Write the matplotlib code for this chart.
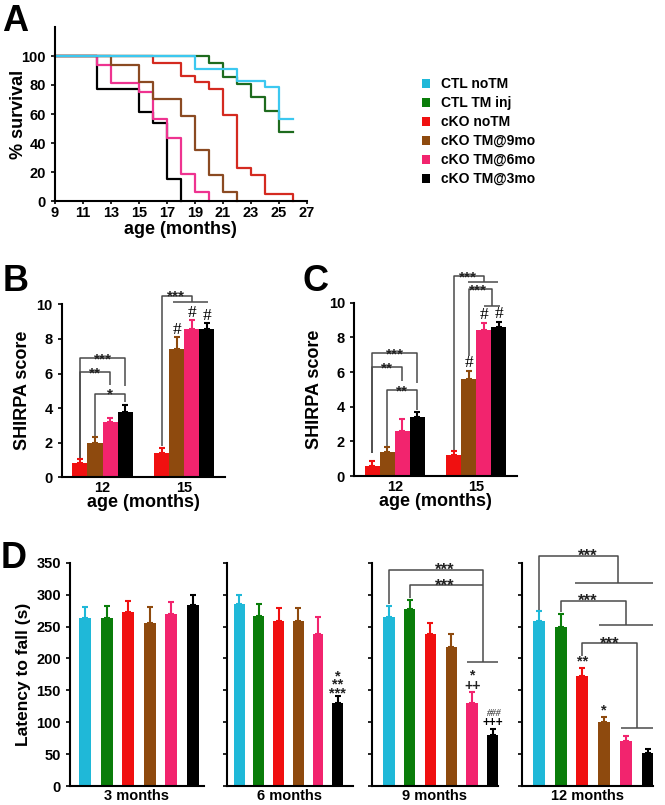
import matplotlib
matplotlib.use("Agg")
import matplotlib.pyplot as plt
from matplotlib.patches import Patch

plt.rcParams['font.family'] = ['Liberation Sans', 'DejaVu Sans']
plt.rcParams['font.weight'] = 'bold'
plt.rcParams['axes.labelweight'] = 'bold'

W, H = 665, 805

groups = ["CTL noTM", "CTL TM inj", "cKO noTM", "cKO TM@9mo", "cKO TM@6mo", "cKO TM@3mo"]
line_colors = ["#3cc8f0", "#1e6b1e", "#d42a20", "#8b4a22", "#ee3390", "#000000"]
bar_colors = ["#1fb8d8", "#0a7d0a", "#f01010", "#8e4a0e", "#f2246e", "#000000"]

# survival curves (month of each step, % surviving from that month on)
surv_t = [
    [9, 19, 22, 24, 25, 26],
    [9, 20, 21, 22, 23, 24, 25, 26],
    [9, 16, 18, 19, 20, 21, 22, 23, 24, 26],
    [9, 13, 15, 16, 18, 19, 20, 21, 22],
    [9, 12, 13, 15, 16, 17, 18, 19, 20],
    [9, 12, 15, 16, 17, 18],
]
surv_pct = [
    [100, 91.3, 82.6, 78.3, 56.5, 56.5],
    [100, 95.2, 85.7, 81.0, 71.4, 61.9, 47.6, 47.6],
    [100, 95.5, 86.4, 81.8, 77.3, 59.1, 22.7, 18.2, 4.5, 0],
    [100, 94.1, 82.4, 70.6, 58.8, 35.3, 17.6, 5.9, 0],
    [100, 93.75, 81.25, 75.0, 56.25, 43.75, 18.75, 6.25, 0],
    [100, 76.9, 61.5, 53.8, 15.4, 0],
]

# SHIRPA scores (cKO noTM, TM@9mo, TM@6mo, TM@3mo)
shirpa_ages = ["12", "15"]
shirpa_b = [[0.8, 2.0, 3.2, 3.8], [1.4, 7.4, 8.6, 8.6]]
shirpa_b_err = [[0.25, 0.35, 0.25, 0.4], [0.3, 0.7, 0.5, 0.3]]
shirpa_c = [[0.6, 1.4, 2.6, 3.4], [1.2, 5.6, 8.45, 8.6]]
shirpa_c_err = [[0.28, 0.28, 0.7, 0.28], [0.23, 0.45, 0.37, 0.28]]

# rotarod latency to fall (s)
rotarod_ages = ["3 months", "6 months", "9 months", "12 months"]
rotarod = [
    [264, 264, 272, 256, 270, 284],
    [286, 266, 259, 259, 238, 130],
    [265, 277, 238, 218, 130, 80],
    [259, 249, 173, 101, 71, 52],
]
rotarod_err = [
    [17, 18, 18, 24, 19, 15],
    [13, 19, 20, 20, 27, 11],
    [17, 15, 18, 21, 17, 9],
    [15, 20, 12, 7, 7, 6],
]

BR = "#4a4a4a"

fig = plt.figure(figsize=(W / 100, H / 100), dpi=100)


def px_axes(l, t, r, b):
    return fig.add_axes([l / W, 1 - b / H, (r - l) / W, (b - t) / H])


def style(ax, lw=1.5):
    for s in ["top", "right"]:
        ax.spines[s].set_visible(False)
    for s in ["left", "bottom"]:
        ax.spines[s].set_linewidth(lw)
    ax.tick_params(direction="out", length=3, width=1.2, labelsize=10.5)


def seg(ax, xs, ys):
    ax.plot(xs, ys, color=BR, lw=1.1, clip_on=False, solid_capstyle="butt")


def stars(ax, x, y, s, size=11):
    ax.annotate(s, (x, y), xytext=(0, -3.8), textcoords="offset points",
                ha="center", va="baseline", fontsize=size, fontweight="bold",
                color="#222222", annotation_clip=False)


def bracket(ax, xl, xr, top, lbot, rbot, s):
    seg(ax, [xl, xl, xr, xr], [lbot, top, top, rbot])
    stars(ax, (xl + xr) / 2, top, s)


# ---- A: survival
axA = px_axes(55, 27, 306.5, 201)
style(axA)
for i in range(5, -1, -1):
    axA.step(surv_t[i], surv_pct[i], where="post", color=line_colors[i], lw=1.6, clip_on=False)
axA.set_xlim(9, 27)
axA.set_ylim(0, 120)
axA.set_xticks(range(9, 28, 2))
axA.set_yticks(range(0, 101, 20))
axA.tick_params(axis="x", length=2, pad=1.5)
axA.set_xlabel("age (months)", fontsize=13, labelpad=1)
axA.set_ylabel("% survival", fontsize=13)
axA.yaxis.set_label_coords(-0.11, 0.5)
handles = [Patch(facecolor=c, edgecolor="none") for c in bar_colors]
fig.legend(handles, groups, loc="upper left", bbox_to_anchor=(422 / W, 1 - 77 / H),
           frameon=False, fontsize=10, handlelength=0.6, handleheight=0.6,
           handletextpad=0.8, labelspacing=0.36, borderpad=0, borderaxespad=0)

# ---- B and C: SHIRPA
w = 0.185
offs = [-1.5 * w, -0.5 * w, 0.5 * w, 1.5 * w]
cols4 = bar_colors[2:]


def shirpa(ax, vals, errs):
    style(ax)
    for g in range(2):
        for k in range(4):
            x = g + offs[k]
            ax.bar(x, vals[g][k], width=w, color=cols4[k], zorder=2)
            ax.errorbar(x, vals[g][k], yerr=[[0], [errs[g][k]]], color=cols4[k],
                        elinewidth=1.5, capsize=2.5, capthick=1.5, zorder=1)
    ax.set_xlim(-0.5, 1.5)
    ax.set_ylim(0, 10)
    ax.set_yticks(range(0, 11, 2))
    ax.set_xticks([0, 1])
    ax.set_xticklabels(shirpa_ages)
    ax.tick_params(axis="x", length=0, pad=3)
    ax.set_xlabel("age (months)", fontsize=13, labelpad=-1)
    ax.set_ylabel("SHIRPA score", fontsize=13, labelpad=4)


def hashes(ax, g, ks, ys):
    for k, y in zip(ks, ys):
        ax.text(g + offs[k], y, "#", ha="center", va="bottom", fontsize=12.5,
                family="Liberation Serif", fontweight="normal")


axB = px_axes(61.7, 304.3, 225, 477.3)
shirpa(axB, shirpa_b, shirpa_b_err)
bracket(axB, offs[0], offs[3], 6.88, 1.1, 5.3, "***")
bracket(axB, offs[0], offs[2], 6.07, 1.1, 5.34, "**")
bracket(axB, offs[1], offs[3], 4.84, 2.4, 4.37, "*")
seg(axB, [1 + offs[0], 1 + offs[0], 1.099, 1.099], [1.8, 10.5, 10.5, 10.12])
seg(axB, [0.864, 1.296], [10.12, 10.12])
stars(axB, 0.9, 10.5, "***")
hashes(axB, 1, [1, 2, 3], [8.05, 9.05, 8.85])

axC = px_axes(354, 302.7, 517, 476)
shirpa(axC, shirpa_c, shirpa_c_err)
bracket(axC, offs[0], offs[3], 7.1, 1.3, 5.35, "***")
bracket(axC, offs[0], offs[2], 6.27, 1.3, 5.5, "**")
bracket(axC, offs[1], offs[3], 4.96, 1.75, 3.8, "**")
seg(axC, [1 + offs[0], 1 + offs[0], 1.098, 1.098], [1.5, 11.54, 11.54, 11.17])
seg(axC, [0.902, 1.27], [11.17, 11.17])
stars(axC, 0.9, 11.54, "***")
seg(axC, [1 + offs[1], 1 + offs[1], 1.193, 1.193], [6.9, 10.77, 10.77, 9.83])
seg(axC, [1.09, 1.287], [9.83, 9.83])
stars(axC, 1.02, 10.77, "***")
hashes(axC, 1, [1, 2, 3], [6.05, 8.85, 8.9])

# ---- D: rotarod
d_rects = [(70, 204), (226.7, 353), (371.7, 498), (521.7, 653)]
d_xlim = [(-0.71, 5.53), (-0.63, 5.78), (-0.82, 5.24), (-0.78, 5.24)]
axD = []
for j in range(4):
    ax = px_axes(d_rects[j][0], 562.7, d_rects[j][1], 786)
    style(ax)
    for i in range(6):
        ax.bar(i, rotarod[j][i], width=0.55, color=bar_colors[i], zorder=2)
        ax.errorbar(i, rotarod[j][i], yerr=[[0], [rotarod_err[j][i]]], color=bar_colors[i],
                    elinewidth=1.5, capsize=2, capthick=1.5, zorder=1)
    ax.set_xlim(*d_xlim[j])
    ax.set_ylim(0, 350)
    ax.set_yticks(range(0, 351, 50))
    ax.set_xticks([])
    ax.set_xlabel(rotarod_ages[j], fontsize=10.5, labelpad=2)
    if j > 0:
        ax.set_yticklabels([])
    axD.append(ax)
axD[0].set_ylabel("Latency to fall (s)", fontsize=12.5, labelpad=4)

a = axD[1]
a.text(5, 159, "*\n**\n***", ha="center", va="center", fontsize=10.5, color="#222222",
       linespacing=0.5, multialignment="center")

a = axD[2]
seg(a, [0, 0, 4.5, 4.5], [285, 338.6, 338.6, 194.9])
seg(a, [1, 1, 4.5], [294, 315, 315])
seg(a, [3.74, 5.25], [194.9, 194.9])
stars(a, 2.66, 338.6, "***", 12)
stars(a, 2.66, 315, "***", 12)
a.text(4, 165, "*\n++", ha="center", va="center", fontsize=10, color="#222222",
       linespacing=0.62, multialignment="center")
a.text(5, 114, "###", ha="center", va="center", fontsize=7, color="#555555",
       family="Liberation Serif", style="italic")
a.text(5, 98.5, "+++", ha="center", va="center", fontsize=8.5)

a = axD[3]
seg(a, [0, 0, 3.65, 3.65], [276, 361, 361, 317.6])
seg(a, [1.66, 5.25], [317.6, 317.6])
stars(a, 2.26, 361, "***", 12)
seg(a, [1, 1, 4.0, 4.0], [272, 290, 290, 251.8])
seg(a, [2.78, 5.25], [251.8, 251.8])
stars(a, 2.26, 290, "***", 12)
seg(a, [2, 2, 4.52, 4.52], [203, 223.6, 223.6, 90.4])
seg(a, [3.76, 5.22], [90.4, 90.4])
stars(a, 3.27, 223.6, "***", 12)
a.text(2, 195, "**", ha="center", va="center", fontsize=10.5, color="#222222")
a.text(3, 119, "*", ha="center", va="center", fontsize=10.5, color="#222222")

# panel letters
for s, x, y in [("A", 2, 31), ("B", 3, 291), ("C", 302, 291), ("D", 1, 568)]:
    fig.text(x / W, 1 - y / H, s, fontsize=26, fontweight="bold", va="baseline")

fig.savefig("out.png", dpi=100)
